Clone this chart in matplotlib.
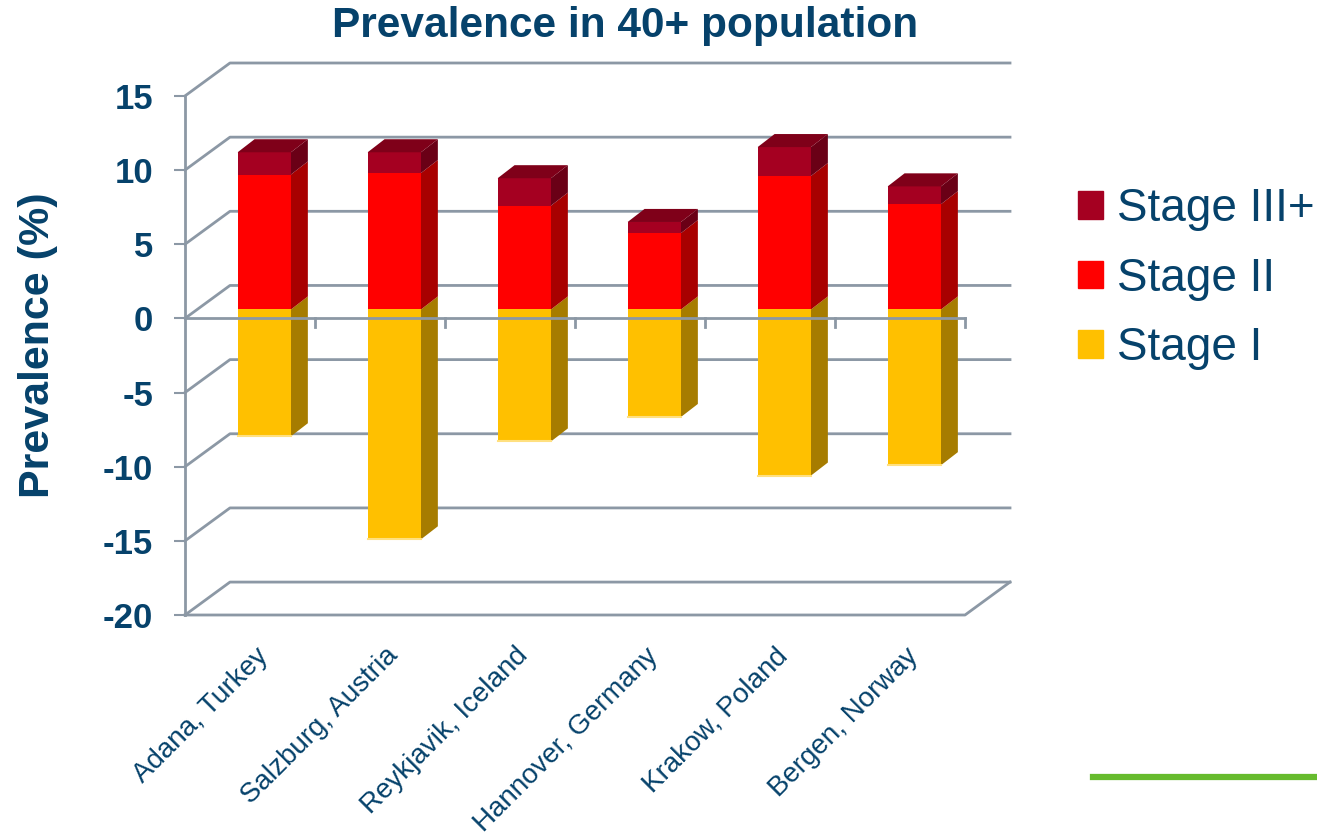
"""Stacked prevalence bars (pseudo-3D) by study site."""

import matplotlib
matplotlib.use("Agg")
import matplotlib.pyplot as plt
import matplotlib.transforms as mtrans
from matplotlib.patches import Polygon, Patch
from matplotlib.lines import Line2D

plt.rcParams["font.family"] = ["Liberation Sans", "DejaVu Sans"]

# ---- data ----
sites = ["Adana, Turkey", "Salzburg, Austria", "Reykjavik, Iceland",
         "Hannover, Germany", "Krakow, Poland", "Bergen, Norway"]
stage1 = [8.55, 15.5, 8.9, 7.25, 11.2, 10.5]   # drawn below zero
stage2 = [9.1, 9.2, 7.0, 5.15, 9.0, 7.1]
stage3 = [1.5, 1.4, 1.85, 0.75, 1.95, 1.2]
yticks = [15, 10, 5, 0, -5, -10, -15, -20]

TXT = "#06426B"
GRID = "#8C98A5"
C3, C3_TOP, C3_SIDE = "#A50021", "#7F0019", "#6A0016"
C2, C2_SIDE = "#FF0000", "#A80000"
C1, C1_SIDE = "#FFC000", "#A67C00"

# depth of the box (data units) and bar geometry
DX, DY = 0.346, 2.22
BX, BY = 0.11, 0.6
SX, SY = 0.13, 0.88
W = 0.41

fig = plt.figure(figsize=(13.17, 8.36), dpi=100)
ax = fig.add_axes([185 / 1317, (836 - 615) / 836, 825 / 1317, 552 / 836])
ax.set_xlim(-0.5, 5.5 + DX)
ax.set_ylim(-20, 15 + DY)
for s in ax.spines.values():
    s.set_visible(False)

n = len(sites)
lw = 2.0

# back wall gridlines + left wall diagonals
for v in yticks:
    ax.plot([-0.5, -0.5 + DX, n - 0.5 + DX], [v, v + DY, v + DY],
            color=GRID, lw=lw, zorder=1, clip_on=False)
# floor front edge + right edge
ax.plot([-0.5, n - 0.5, n - 0.5 + DX], [-20, -20, -20 + DY],
        color=GRID, lw=lw, zorder=1, clip_on=False)
# front vertical axis
ax.plot([-0.5, -0.5], [-20, 15], color=GRID, lw=lw, zorder=1, clip_on=False)


def side(x1, y0, y1, color):
    ax.add_patch(Polygon([(x1, y0), (x1 + SX, y0 + SY), (x1 + SX, y1 + SY), (x1, y1)],
                         closed=True, facecolor=color, edgecolor="none", zorder=2))


for i in range(n):
    x0 = i + BX - W / 2
    x1 = x0 + W
    s1, s2, s3 = stage1[i], stage2[i], stage3[i]
    # stage I (negative)
    side(x1, BY - s1, BY, C1_SIDE)
    ax.bar(i + BX, s1, bottom=BY - s1, width=W, color=C1, zorder=3)
    ax.plot([x0, x1], [BY - s1, BY - s1], color="#FFE080", lw=1.5, zorder=3)
    # stage II
    side(x1, BY, BY + s2, C2_SIDE)
    ax.bar(i + BX, s2, bottom=BY, width=W, color=C2, zorder=3)
    # stage III+
    top = BY + s2 + s3
    side(x1, BY + s2, top, C3_SIDE)
    ax.bar(i + BX, s3, bottom=BY + s2, width=W, color=C3, zorder=3)
    ax.add_patch(Polygon([(x0, top), (x0 + SX, top + SY), (x1 + SX, top + SY), (x1, top)],
                         closed=True, facecolor=C3_TOP, edgecolor="none", zorder=3))

# category axis at zero, in front of the bars
ax.plot([-0.5, n - 0.5], [0, 0], color=GRID, lw=lw, zorder=4, clip_on=False)
for k in range(1, n + 1):
    ax.plot([k - 0.5, k - 0.5], [0, -0.55], color=GRID, lw=lw, zorder=4, clip_on=False)

# ticks and labels
ax.set_yticks(yticks)
ax.set_yticklabels([str(v) for v in yticks], fontsize=25, fontweight="bold", color=TXT)
ax.tick_params(axis="y", length=8, width=1.5, color=GRID, pad=15)
ax.set_xticks(range(n))
ax.set_xticklabels(sites, rotation=45, ha="right", rotation_mode="anchor",
                   fontsize=20, color=TXT)
ax.tick_params(axis="x", length=0, pad=20)
shift = mtrans.ScaledTranslation(5 / 100, 0, fig.dpi_scale_trans)
for lab in ax.get_xticklabels():
    lab.set_transform(lab.get_transform() + shift)

fig.text(625 / 1317, 1 - 26 / 836, "Prevalence in 40+ population", ha="center", va="center",
         fontsize=30.5, fontweight="bold", color=TXT)
fig.text(38 / 1317, 1 - 345 / 836, "Prevalence (%)", ha="center", va="center", rotation=90,
         fontsize=31, fontweight="bold", color=TXT)

handles = [Patch(color=C3, label="Stage III+"), Patch(color=C2, label="Stage II"),
           Patch(color=C1, label="Stage I")]
leg = fig.legend(handles=handles, loc="upper left", bbox_to_anchor=(1078 / 1317, 1 - 187 / 836),
                 frameon=False, fontsize=33, handlelength=0.55, handleheight=0.55,
                 handletextpad=0.3, labelspacing=0.56, borderpad=0, borderaxespad=0)
for t in leg.get_texts():
    t.set_color(TXT)

# green accent line bottom right
fig.add_artist(Line2D([1093 / 1317, 1.0], [1 - 777 / 836, 1 - 777 / 836],
                      color="#66BB2E", lw=4.5, transform=fig.transFigure))

fig.savefig("out.png", dpi=100)
